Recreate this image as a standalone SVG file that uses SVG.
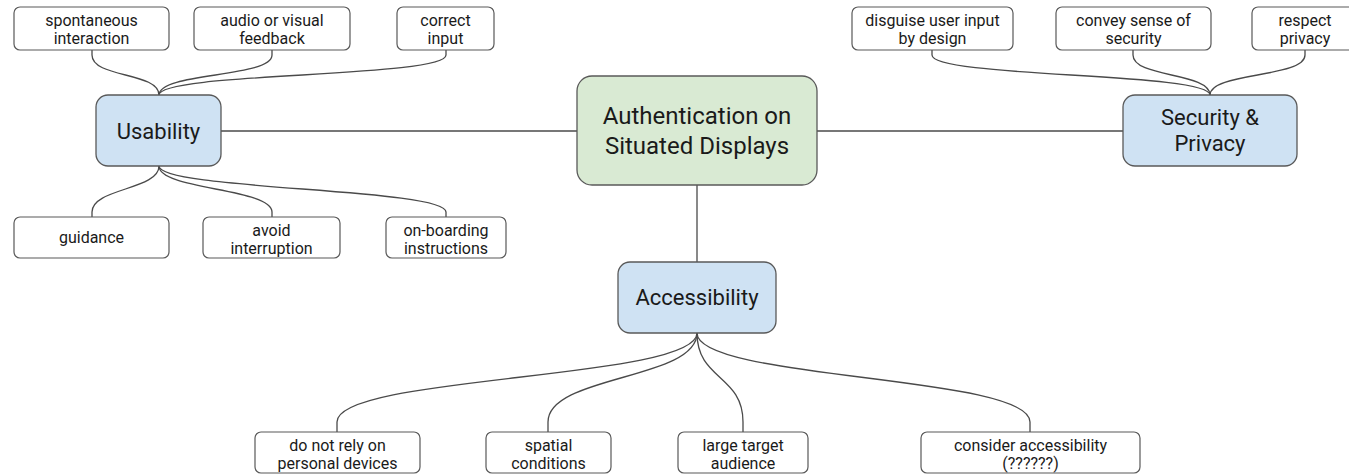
<svg xmlns="http://www.w3.org/2000/svg" width="1349" height="474" viewBox="0 0 1349 474">
  <style>
    .leaf { fill: #ffffff; stroke: #595959; stroke-width: 1.2; }
    .topic { fill: #cfe2f3; stroke: #595959; stroke-width: 1.3; }
    .root { fill: #d9ead3; stroke: #595959; stroke-width: 1.3; }
    .lbl { font-family: Roboto, "Liberation Sans", sans-serif; font-size: 16px; fill: #1a1a1a; text-anchor: middle; }
    .big { font-family: Roboto, "Liberation Sans", sans-serif; font-size: 22px; fill: #1a1a1a; text-anchor: middle; }
    .huge { font-family: Roboto, "Liberation Sans", sans-serif; font-size: 24px; fill: #1a1a1a; text-anchor: middle; }
    #connectors path { fill: none; stroke: #4a4a4a; stroke-width: 1.3; }
  </style>
  <rect width="1349" height="474" fill="#ffffff"/>

  <g id="connectors">
    <!-- root to topics -->
    <path d="M221,131 H577"/>
    <path d="M817,131 H1123"/>
    <path d="M697,185 V262"/>
    <!-- usability, upper leaves -->
    <path d="M92,50 V55 C92,78 159,72 159,95"/>
    <path d="M272,50 V55 C272,78 159,72 159,95"/>
    <path d="M446,50 V55 C446,78 159,72 159,95"/>
    <!-- usability, lower leaves -->
    <path d="M159,166 C159,190 92,188 92,212 V217"/>
    <path d="M159,166 C159,190 272,188 272,212 V217"/>
    <path d="M159,166 C159,190 446,188 446,212 V217"/>
    <!-- security & privacy leaves -->
    <path d="M932,50 V55 C932,78 1210,72 1210,95"/>
    <path d="M1133,50 V55 C1133,78 1210,72 1210,95"/>
    <path d="M1305,50 V55 C1305,78 1210,72 1210,95"/>
    <!-- accessibility leaves -->
    <path d="M697,333 C697,380 337,375 337,422 V432"/>
    <path d="M697,333 C697,380 548,375 548,422 V432"/>
    <path d="M697,333 C697,380 743,375 743,422 V432"/>
    <path d="M697,333 C697,380 1030,375 1030,422 V432"/>
  </g>

  <g id="root">
    <rect class="root" x="577" y="76" width="240" height="109" rx="15"/>
    <text class="huge" x="697" y="124">Authentication on</text>
    <text class="huge" x="697" y="154">Situated Displays</text>
  </g>

  <g id="usability">
    <rect class="topic" x="96" y="95" width="125" height="71" rx="12"/>
    <text class="big" x="158.5" y="138.5">Usability</text>
  </g>

  <g id="security">
    <rect class="topic" x="1123" y="95" width="174" height="71" rx="12"/>
    <text class="big" x="1210" y="125">Security &amp;</text>
    <text class="big" x="1210" y="151">Privacy</text>
  </g>

  <g id="accessibility">
    <rect class="topic" x="618" y="262" width="158" height="71" rx="12"/>
    <text class="big" x="697" y="305">Accessibility</text>
  </g>

  <g id="spontaneous">
    <rect class="leaf" x="14" y="7" width="155" height="43" rx="6"/>
    <text class="lbl" x="91.5" y="25.5">spontaneous</text>
    <text class="lbl" x="91.5" y="44">interaction</text>
  </g>
  <g id="feedback">
    <rect class="leaf" x="194" y="7" width="156" height="43" rx="6"/>
    <text class="lbl" x="272" y="25.5">audio or visual</text>
    <text class="lbl" x="272" y="44">feedback</text>
  </g>
  <g id="correct-input">
    <rect class="leaf" x="397" y="7" width="97" height="43" rx="6"/>
    <text class="lbl" x="445.5" y="25.5">correct</text>
    <text class="lbl" x="445.5" y="44">input</text>
  </g>

  <g id="guidance">
    <rect class="leaf" x="14" y="217" width="155" height="41" rx="6"/>
    <text class="lbl" x="91.5" y="243">guidance</text>
  </g>
  <g id="avoid-interruption">
    <rect class="leaf" x="203" y="217" width="137" height="41" rx="6"/>
    <text class="lbl" x="271.5" y="235.5">avoid</text>
    <text class="lbl" x="271.5" y="254">interruption</text>
  </g>
  <g id="onboarding">
    <rect class="leaf" x="386" y="217" width="120" height="41" rx="6"/>
    <text class="lbl" x="446" y="235.5">on-boarding</text>
    <text class="lbl" x="446" y="254">instructions</text>
  </g>

  <g id="disguise">
    <rect class="leaf" x="852" y="7" width="161" height="43" rx="6"/>
    <text class="lbl" x="932.5" y="25.5">disguise user input</text>
    <text class="lbl" x="932.5" y="44">by design</text>
  </g>
  <g id="sense-of-security">
    <rect class="leaf" x="1056" y="7" width="155" height="43" rx="6"/>
    <text class="lbl" x="1133.5" y="25.5">convey sense of</text>
    <text class="lbl" x="1133.5" y="44">security</text>
  </g>
  <g id="respect-privacy">
    <rect class="leaf" x="1252" y="7" width="106" height="43" rx="6"/>
    <text class="lbl" x="1305" y="25.5">respect</text>
    <text class="lbl" x="1305" y="44">privacy</text>
  </g>

  <g id="personal-devices">
    <rect class="leaf" x="255" y="432" width="165" height="41" rx="6"/>
    <text class="lbl" x="337.5" y="450.5">do not rely on</text>
    <text class="lbl" x="337.5" y="469">personal devices</text>
  </g>
  <g id="spatial-conditions">
    <rect class="leaf" x="486" y="432" width="125" height="41" rx="6"/>
    <text class="lbl" x="548.5" y="450.5">spatial</text>
    <text class="lbl" x="548.5" y="469">conditions</text>
  </g>
  <g id="target-audience">
    <rect class="leaf" x="678" y="432" width="130" height="41" rx="6"/>
    <text class="lbl" x="743" y="450.5">large target</text>
    <text class="lbl" x="743" y="469">audience</text>
  </g>
  <g id="consider-accessibility">
    <rect class="leaf" x="921" y="432" width="219" height="41" rx="6"/>
    <text class="lbl" x="1030.5" y="450.5">consider accessibility</text>
    <text class="lbl" x="1030.5" y="469">(??????)</text>
  </g>
</svg>
